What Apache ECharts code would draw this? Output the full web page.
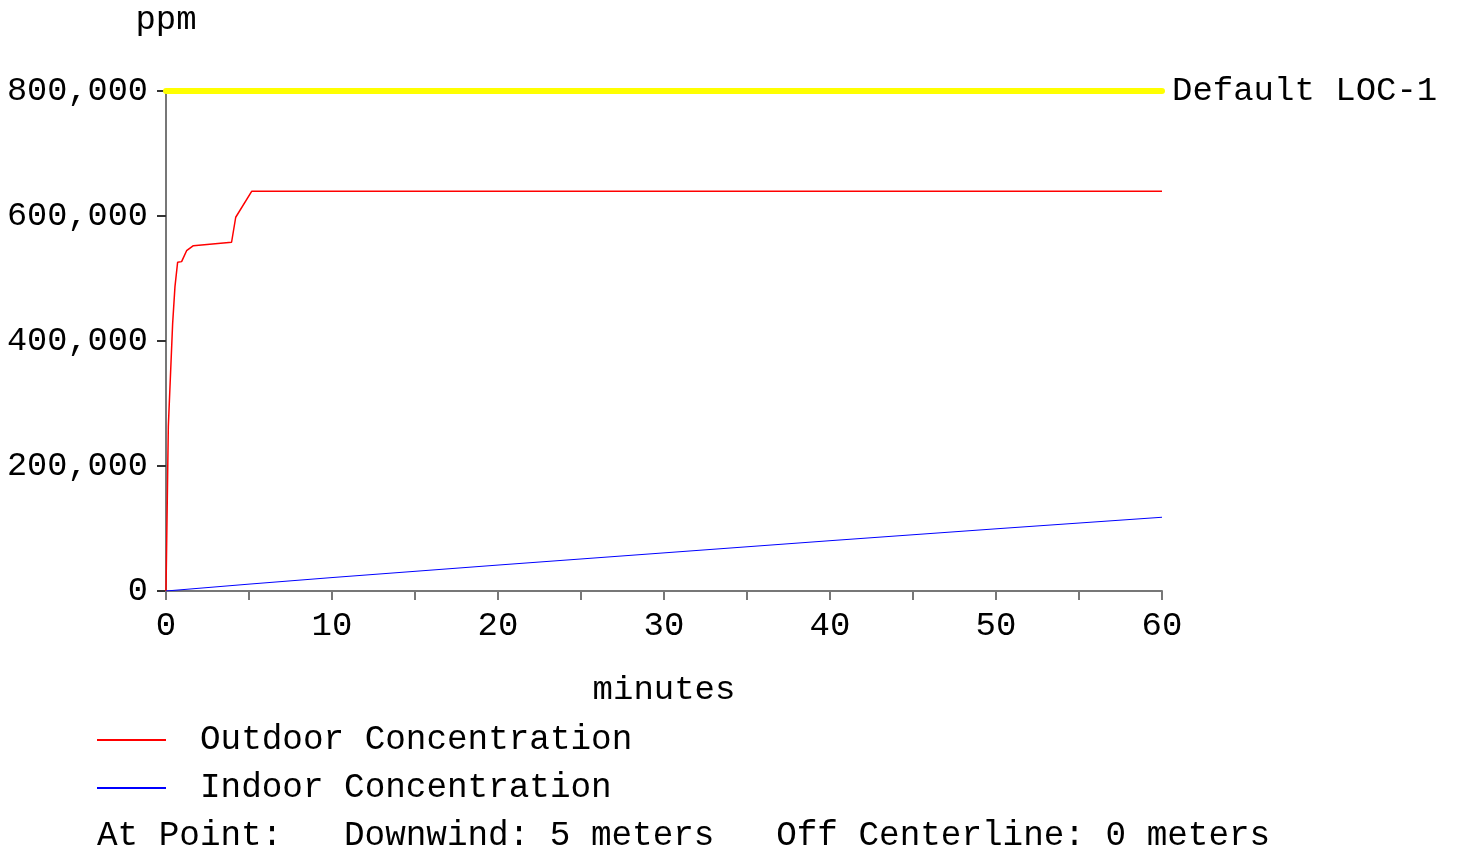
<!DOCTYPE html>
<html>
<head>
<meta charset="utf-8">
<script src="https://cdn.jsdelivr.net/npm/echarts@6/dist/echarts.min.js"></script>
<style>
html,body{margin:0;padding:0;background:#fff;}
#chart{width:1457px;height:850px;}
</style>
</head>
<body>
<div id="chart"></div>
<script>
// Data (minutes, ppm)
const outdoorTimes  = [0, 0.14, 0.40, 0.54, 0.70, 0.94, 1.24, 1.65, 3.95, 4.20, 5.16, 60];
const outdoorValues = [0, 263000, 428000, 487000, 526000, 527000, 544500, 552500, 558000, 598000, 639500, 639500];
const indoorTimes   = [0, 5, 10, 20, 30, 40, 50, 60];
const indoorValues  = [0, 11000, 21500, 41500, 61000, 80500, 99500, 118000];
const locValue = 800000;
const locLabel = 'Default LOC-1';
const seriesNames = ['Outdoor Concentration', 'Indoor Concentration'];
const footnote = 'At Point:   Downwind: 5 meters   Off Centerline: 0 meters';

const FONT = 'Liberation Mono';
const FS = 34;
const FSL = 34.3;

const chart = echarts.init(document.getElementById('chart'), null, {renderer: 'canvas'});
const zip = (xs, ys) => xs.map((x, i) => [x, ys[i]]);

chart.setOption({
  animation: false,
  backgroundColor: '#ffffff',
  textStyle: {fontFamily: FONT, fontSize: FS, color: '#000'},
  grid: {left: 166, right: 295, top: 91, bottom: 259, containLabel: false},
  xAxis: {
    type: 'value', min: 0, max: 60, interval: 5,
    name: 'minutes', nameLocation: 'middle', nameGap: 82,
    nameTextStyle: {fontFamily: FONT, fontSize: FS, color: '#000'},
    axisLine: {show: true, lineStyle: {color: '#777', width: 2}},
    axisTick: {show: true, inside: false, length: 9, lineStyle: {color: '#777', width: 2}},
    axisLabel: {
      fontFamily: FONT, fontSize: FS, color: '#000', margin: 18,
      formatter: v => (v % 10 === 0 ? String(v) : '')
    },
    splitLine: {show: false}
  },
  yAxis: {
    type: 'value', min: 0, max: 800000, interval: 200000,
    name: 'ppm', nameLocation: 'end', nameGap: 54,
    nameTextStyle: {fontFamily: FONT, fontSize: FS, color: '#000', align: 'center', verticalAlign: 'bottom'},
    axisLine: {show: true, lineStyle: {color: '#777', width: 2}},
    axisTick: {show: true, inside: false, length: 9, lineStyle: {color: '#333', width: 2}},
    axisLabel: {
      fontFamily: FONT, fontSize: 33.6, color: '#000', margin: 18,
      formatter: v => v.toLocaleString('en-US')
    },
    splitLine: {show: false}
  },
  legend: {
    orient: 'vertical', left: 97, top: 723, padding: 0,
    icon: 'rect', itemWidth: 69, itemHeight: 2, itemGap: 14,
    data: seriesNames,
    textStyle: {fontFamily: FONT, fontSize: FSL, color: '#000', lineHeight: 34, padding: [0, 0, 0, 29]},
    selectedMode: false
  },
  graphic: [{
    type: 'text', left: 97, top: 819,
    style: {text: footnote, font: FSL + 'px "' + FONT + '"', fill: '#000'}
  }],
  series: [
    {
      name: seriesNames[0], type: 'line', data: zip(outdoorTimes, outdoorValues),
      symbol: 'none', lineStyle: {color: '#ff0000', width: 1.5}, itemStyle: {color: '#ff0000'},
      z: 3,
      markLine: {
        silent: true, symbol: ['none', 'none'],
        lineStyle: {color: '#ffff00', width: 6, type: 'solid', cap: 'round'},
        label: {show: true, position: 'end', distance: 10, formatter: locLabel,
                fontFamily: FONT, fontSize: FS, color: '#000'},
        data: [{yAxis: locValue}]
      }
    },
    {
      name: seriesNames[1], type: 'line', data: zip(indoorTimes, indoorValues),
      symbol: 'none', lineStyle: {color: '#0000ff', width: 1}, itemStyle: {color: '#0000ff'},
      z: 3
    }
  ]
});
</script>
</body>
</html>
